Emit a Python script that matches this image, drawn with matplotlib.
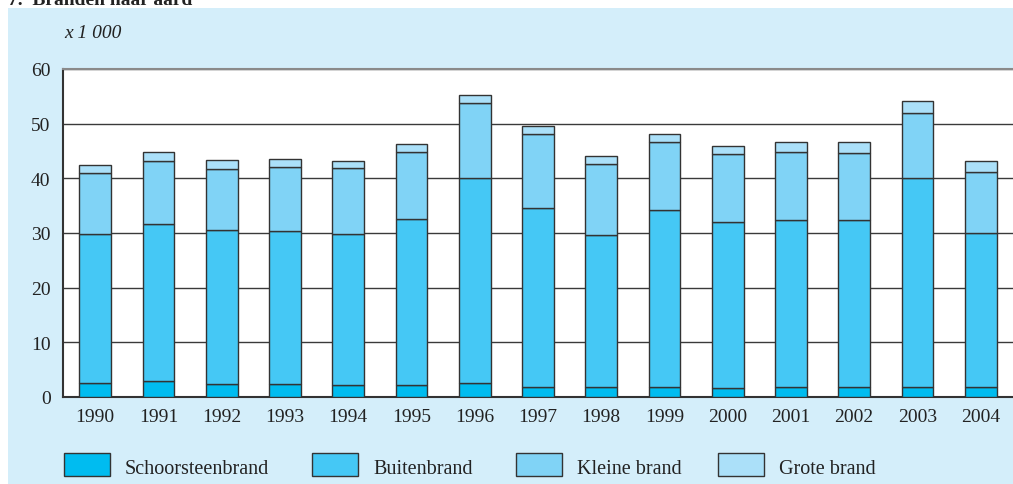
"""Branden naar aard, 1990-2004 (x 1 000), stacked bars."""

import matplotlib.pyplot as plt
import numpy as np
from matplotlib.patches import Rectangle

OUT_PATH = "out.png"

YEARS = ["1990", "1991", "1992", "1993", "1994", "1995", "1996", "1997",
         "1998", "1999", "2000", "2001", "2002", "2003", "2004"]

SCHOORSTEENBRAND = [2.5, 2.9, 2.3, 2.4, 2.2, 2.2, 2.6, 1.9, 1.9, 1.8, 1.7, 1.8, 1.9, 1.8, 1.8]
BUITENBRAND = [27.3, 28.7, 28.2, 28.0, 27.7, 30.3, 37.4, 32.7, 27.8, 32.4, 30.4, 30.5, 30.5, 38.3, 28.2]
KLEINE_BRAND = [11.2, 11.5, 11.2, 11.7, 11.9, 12.4, 13.8, 13.5, 12.9, 12.5, 12.4, 12.5, 12.2, 11.8, 11.2]
GROTE_BRAND = [1.4, 1.8, 1.7, 1.4, 1.3, 1.3, 1.4, 1.4, 1.4, 1.5, 1.5, 1.8, 2.0, 2.2, 1.9]

SERIES_NAMES = ["Schoorsteenbrand", "Buitenbrand", "Kleine brand", "Grote brand"]
SERIES_COLORS = ["#00bcf0", "#45c8f5", "#80d3f6", "#abe0f9"]

PANEL_BG = "#d4eefa"
EDGE = "#333333"
FONT = ["Liberation Serif", "DejaVu Serif"]


def main() -> None:
    plt.rcParams["font.family"] = FONT

    fig = plt.figure(figsize=(10.13, 4.85), dpi=100)
    W, H = 1013, 485

    # light blue panel behind the chart
    fig.patches.append(Rectangle((8 / W, 0), 1 - 8 / W, 1 - 9 / H,
                                 transform=fig.transFigure, facecolor=PANEL_BG,
                                 edgecolor="none", zorder=-5))
    fig.text(8 / W, 1 - 5 / H, "7.  Branden naar aard", fontsize=14,
             fontweight="bold", va="baseline", ha="left", color="#222222")

    ax = fig.add_axes([63 / W, 1 - 398 / H, (1013 - 63) / W, (398 - 70) / H])
    ax.set_zorder(2)
    ax.set_facecolor("white")

    x = np.arange(len(YEARS))
    values = [SCHOORSTEENBRAND, BUITENBRAND, KLEINE_BRAND, GROTE_BRAND]
    bottom = np.zeros(len(YEARS))
    for name, vals, color in zip(SERIES_NAMES, values, SERIES_COLORS):
        ax.bar(x, vals, width=0.505, bottom=bottom, color=color,
               edgecolor=EDGE, linewidth=1.0, zorder=3, label=name)
        bottom += np.array(vals)

    ax.set_xlim(-0.51, len(YEARS) - 0.49)
    ax.set_ylim(0, 60)
    ax.set_yticks(range(0, 61, 10))
    ax.set_xticks(x)
    ax.set_xticklabels(YEARS)
    ax.yaxis.grid(True, color="#3a3a3a", linewidth=1.0, zorder=1)
    ax.set_axisbelow(True)
    ax.tick_params(axis="both", length=0, labelsize=14, colors="#222222")
    ax.tick_params(axis="y", pad=9)
    ax.tick_params(axis="x", pad=8)

    ax.spines["right"].set_visible(False)
    ax.spines["top"].set_color("#8a8a8a")
    ax.spines["top"].set_linewidth(1.5)
    for side in ["left", "bottom"]:
        ax.spines[side].set_color(EDGE)
        ax.spines[side].set_linewidth(1.5)

    fig.text(64 / W, 1 - 33 / H, "x 1 000", fontsize=14, style="italic",
             va="center", ha="left", color="#222222")

    # legend row
    legend_x = [64, 312, 516, 718]
    for lx, name, color in zip(legend_x, SERIES_NAMES, SERIES_COLORS):
        fig.patches.append(Rectangle((lx / W, 1 - 477 / H), 46 / W, 23 / H,
                                     transform=fig.transFigure, facecolor=color,
                                     edgecolor=EDGE, linewidth=1.0, zorder=2))
        fig.text((lx + 61) / W, 1 - 470 / H, name, fontsize=14.5,
                 va="center", ha="left", color="#222222")

    fig.savefig(OUT_PATH, dpi=100)
    plt.close(fig)


if __name__ == "__main__":
    main()
